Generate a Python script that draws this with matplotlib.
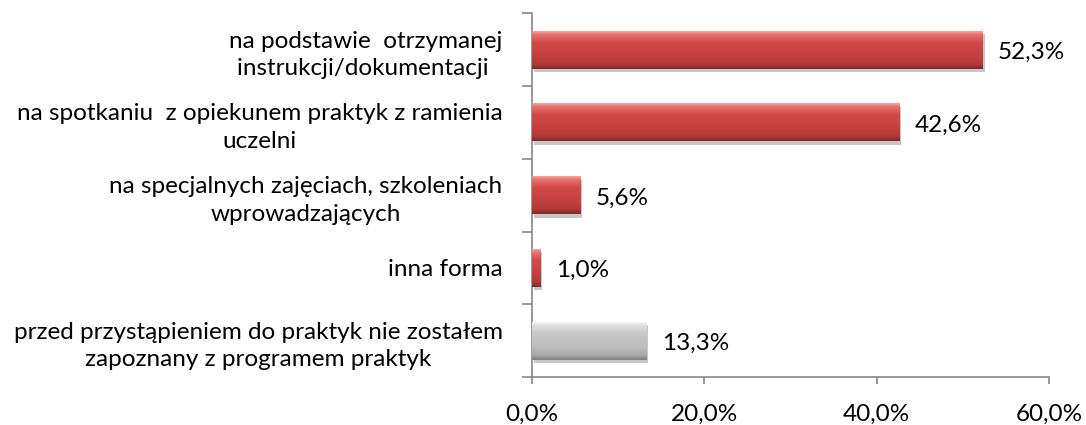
import numpy as np
import matplotlib
matplotlib.use("Agg")
import matplotlib.pyplot as plt
from matplotlib.colors import LinearSegmentedColormap
from matplotlib.ticker import FuncFormatter, FixedLocator
import matplotlib.patheffects as pe

plt.rcParams['font.family'] = ['Lato', 'DejaVu Sans']

categories = [
    "na podstawie  otrzymanej\ninstrukcji/dokumentacji ",
    "na spotkaniu  z opiekunem praktyk z ramienia\nuczelni",
    "na specjalnych zajęciach, szkoleniach\nwprowadzających",
    "inna forma",
    "przed przystąpieniem do praktyk nie zostałem\nzapoznany z programem praktyk",
]
values = [52.3, 42.6, 5.6, 1.0, 13.3]
x_ticks = [0, 20, 40, 60]

red_stops = ["#F4A3A3", "#EA7270", "#D04A48", "#C5413F", "#B03A38", "#7E2929"]
gray_stops = ["#F4F4F4", "#E0E0E0", "#C8C8C8", "#BEBEBE", "#A9A9A9", "#808080"]
bar_palettes = [red_stops, red_stops, red_stops, red_stops, gray_stops]

FS = 17.5

fig = plt.figure(figsize=(10.86, 4.25), dpi=100)
ax = fig.add_axes([531.7 / 1086, 1 - 377 / 425, (1049 - 531.7) / 1086, (377 - 13.3) / 425])

n = len(categories)
pos = np.arange(n)
bars = ax.barh(pos, values, height=0.52, color="#C23F3D", edgecolor="none", zorder=2)

ax.set_xlim(0, 60)
ax.set_ylim(n - 0.5, -0.5)

grad = np.linspace(0, 1, 64).reshape(-1, 1)
for bar, stops in zip(bars, bar_palettes):
    bar.set_path_effects([pe.SimplePatchShadow(offset=(1.5, -2.5), shadow_rgbFace="#000000", alpha=0.22),
                          pe.Normal()])
    cmap = LinearSegmentedColormap.from_list("g", list(zip([0, 0.08, 0.3, 0.65, 0.88, 1.0], stops)))
    x0, y0 = bar.get_x(), bar.get_y()
    x1, y1 = x0 + bar.get_width(), y0 + bar.get_height()
    im = ax.imshow(grad, cmap=cmap, aspect="auto", extent=(x0, x1, y0, y1),
                   origin="lower", zorder=3, interpolation="bicubic")
    im.set_clip_path(bar)

ax.set_xlim(0, 60)
ax.set_ylim(n - 0.5, -0.5)

for bar, v in zip(bars, values):
    ax.annotate(f"{v:.1f}%".replace(".", ","), xy=(bar.get_width(), bar.get_y() + bar.get_height() / 2),
                xytext=(11, -2), textcoords="offset points", ha="left", va="center",
                fontsize=FS, color="#000000")

ax.set_yticks(pos)
ax.set_yticklabels(categories, fontsize=FS)
for lbl in ax.get_yticklabels():
    lbl.set_multialignment("center")
    lbl.set_linespacing(1.38)
ax.yaxis.set_minor_locator(FixedLocator(np.arange(-0.5, n, 1.0)))
ax.tick_params(axis="y", which="major", length=0, pad=21)
ax.tick_params(axis="y", which="minor", length=7, width=1.2, color="#868686")

ax.set_xticks(x_ticks)
ax.xaxis.set_major_formatter(FuncFormatter(lambda v, p: f"{v:.1f}%".replace(".", ",")))
ax.tick_params(axis="x", which="major", length=5, width=1.2, color="#868686", labelsize=FS, pad=14)

for s in ["top", "right"]:
    ax.spines[s].set_visible(False)
for s in ["left", "bottom"]:
    ax.spines[s].set_color("#868686")
    ax.spines[s].set_linewidth(1.2)

fig.savefig("out.png", dpi=100)
